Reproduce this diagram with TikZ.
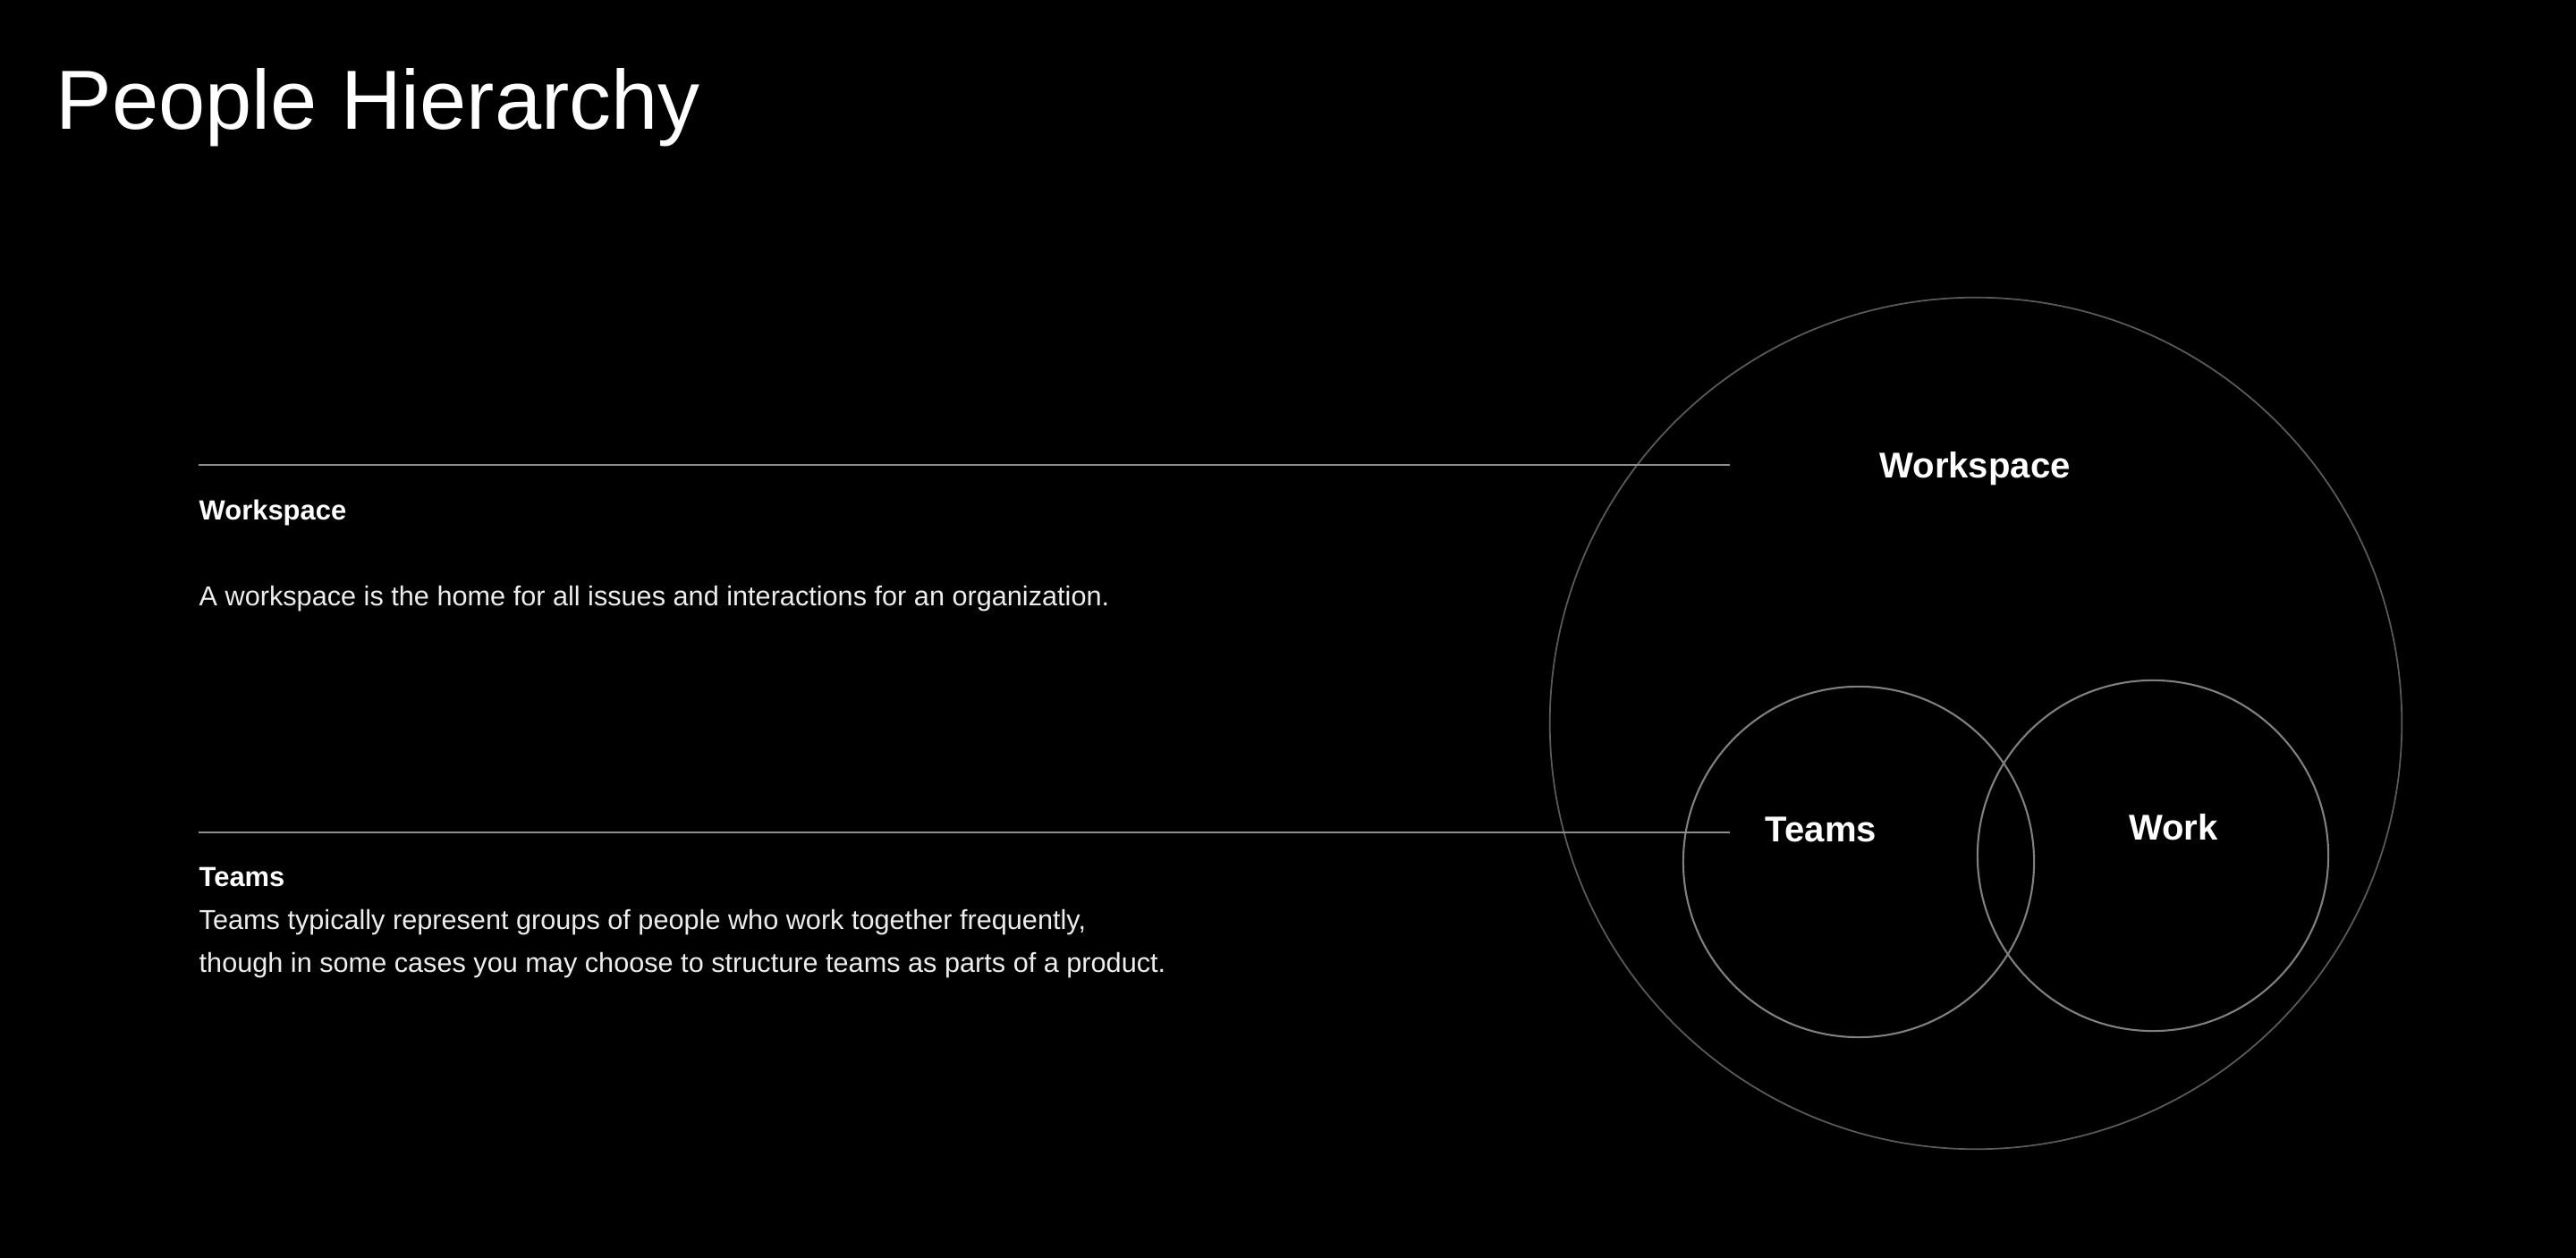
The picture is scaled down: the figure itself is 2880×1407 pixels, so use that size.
\documentclass[tikz,border=0pt]{standalone}
\usepackage{fontspec}
\setmainfont{Liberation Sans}
\usepackage{xcolor}
\definecolor{LN}{HTML}{8E8E8E}
\definecolor{CI}{HTML}{808080}
\definecolor{CO}{HTML}{5A5A5A}
\tikzset{
    CO1/.style ={circle,minimum size = 9.52cm, draw=CO, line width=0.5pt},
    CI1/.style ={circle,minimum size = 3.92cm, draw=CI, line width=0.6pt},
    LA1/.style ={font=\bfseries\fontsize{11.4pt}{13pt}\selectfont, text=white, anchor=base, inner sep=0pt},
    HD1/.style ={font=\bfseries\fontsize{8.8pt}{11pt}\selectfont, text=white, anchor=base west, inner sep=0pt},
    TX1/.style ={font=\fontsize{8.72pt}{13.66pt}\selectfont, text=white!93!black, anchor=base west, inner sep=0pt, align=left},
    LI1/.style ={draw=LN, line width=0.55pt}
}
\begin{document}
\begin{tikzpicture}[x=0.01cm,y=-0.01cm]
        \fill[black] (0,0) rectangle (2880,1407);
        \useasboundingbox (0,0) rectangle (2880,1407);
        \node[anchor=base west, inner sep=0pt, text=white, font=\fontsize{26.7pt}{32pt}\selectfont] (title) at (62,145) {People Hierarchy};
        \node[CO1] (wsc) at (2209,809) {};
        \node[CI1] (tmc) at (2078,964) {};
        \node[CI1] (wkc) at (2407,957) {};
        \node[LA1] (wsl) at (2208,535) {Workspace};
        \node[LA1] (tml) at (2036,942) {Teams};
        \node[LA1] (wkl) at (2430,940) {Work};
        \coordinate (a1) at (222,520);
        \coordinate (a2) at (1934,520);
        \coordinate (b1) at (222,931);
        \coordinate (b2) at (1934,931);
        \draw[LI1] (a1)--(a2);
        \draw[LI1] (b1)--(b2);
        \node[HD1] (wsh) at (222,582) {Workspace};
        \node[TX1] (wst) at (222,678) {A workspace is the home for all issues and interactions for an organization.};
        \node[HD1] (tmh) at (222,992) {Teams};
        \node[TX1] (tmt) at (222,1088) {Teams typically represent groups of people who work together frequently,\\though in some cases you may choose to structure teams as parts of a product.};
    \end{tikzpicture}
\end{document}
